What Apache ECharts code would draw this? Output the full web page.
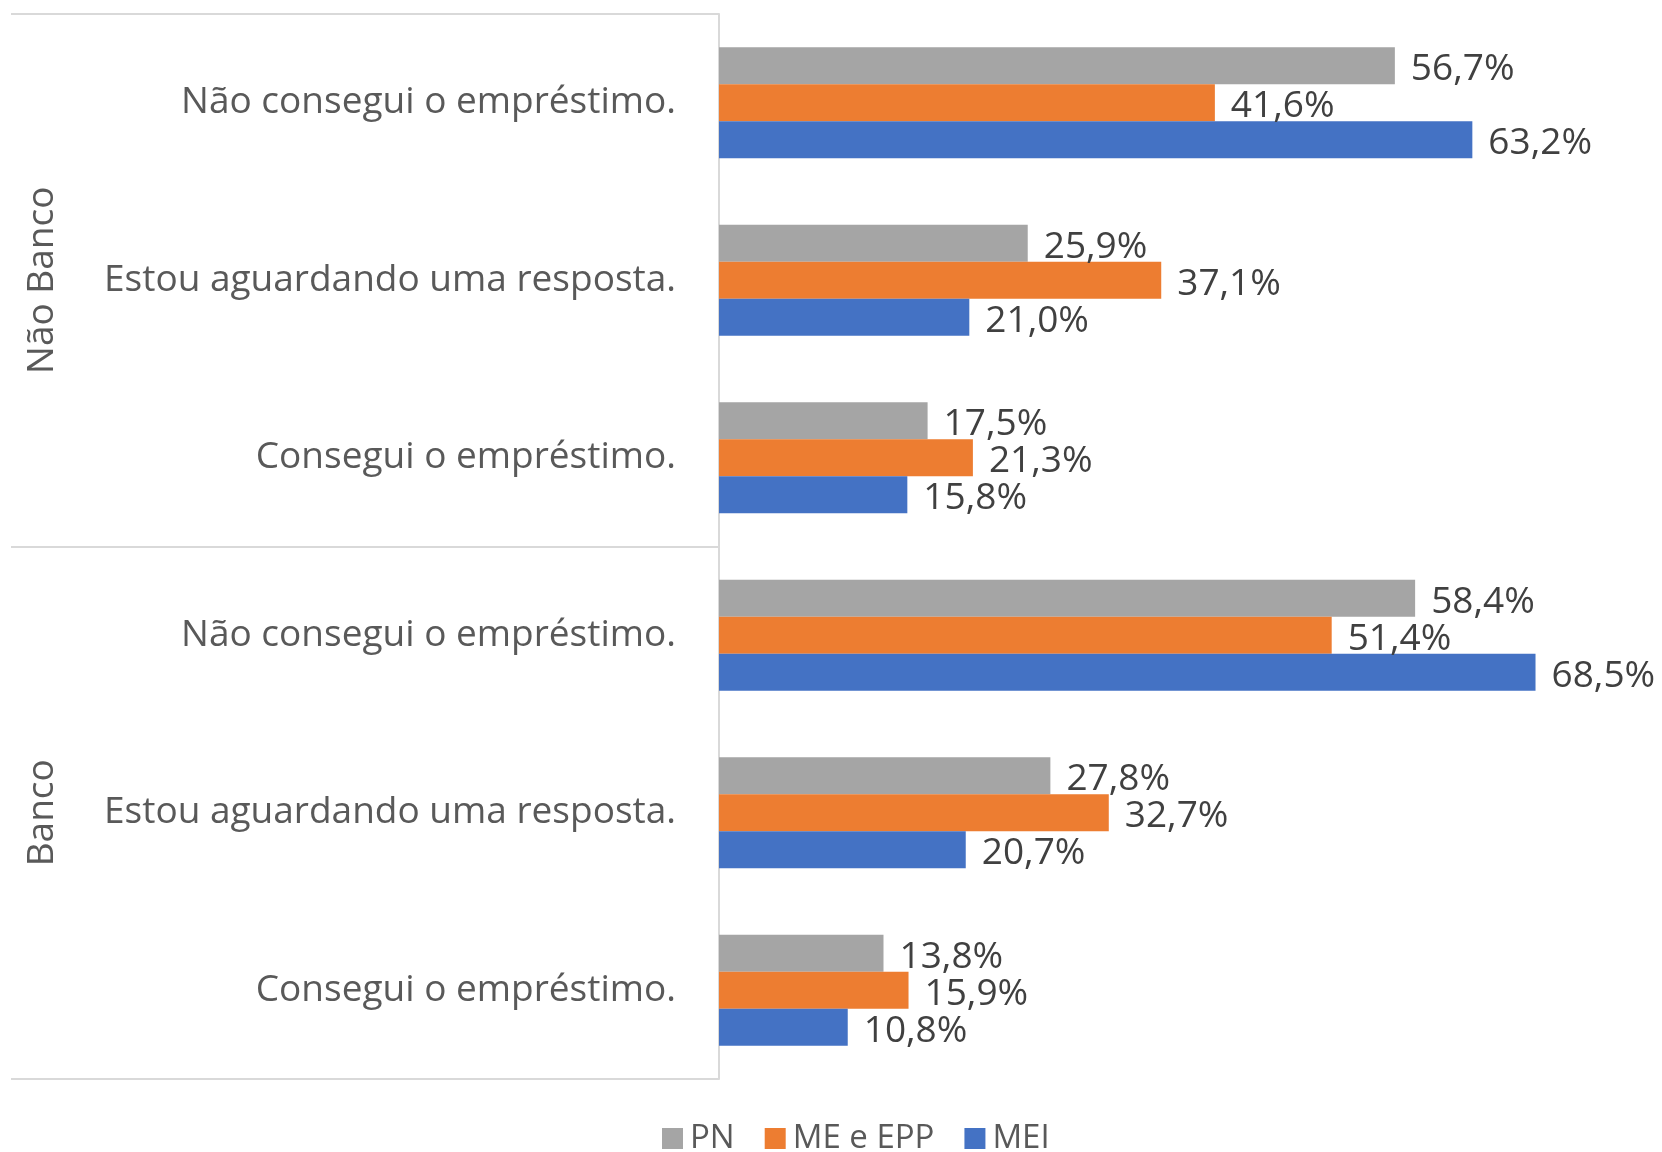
<!DOCTYPE html>
<html>
<head>
<meta charset="utf-8">
<script src="https://cdn.jsdelivr.net/npm/echarts@6/dist/echarts.min.js"></script>
<style>html,body{margin:0;padding:0;background:#fff}#c{width:1662px;height:1152px}</style>
</head>
<body>
<div id="c"></div>
<script>
const categories = ["Não consegui o empréstimo.", "Estou aguardando uma resposta.", "Consegui o empréstimo.",
                    "Não consegui o empréstimo.", "Estou aguardando uma resposta.", "Consegui o empréstimo."];
const groups = ["Não Banco", "Banco"];
const seriesNames = ["PN", "ME e EPP", "MEI"];
const pn = [56.7, 25.9, 17.5, 58.4, 27.8, 13.8];
const meEpp = [41.6, 37.1, 21.3, 51.4, 32.7, 15.9];
const mei = [63.2, 21.0, 15.8, 68.5, 20.7, 10.8];
const colors = ["#A5A5A5", "#ED7D31", "#4472C4"];

const FONT = "Open Sans";
const fmt = p => p.value.toFixed(1).replace('.', ',') + '%';

function mk(name, data, color) {
  return {
    name, type: 'bar', data, yAxisIndex: 0,
    itemStyle: { color },
    barGap: 0, barCategoryGap: '37.5%',
    label: { show: true, position: 'right', distance: 16, offset: [0, 4], formatter: fmt,
             color: '#404040', fontSize: 37, fontFamily: FONT },
    silent: true
  };
}

const chart = echarts.init(document.getElementById('c'), null, { renderer: 'canvas' });
chart.setOption({
  animation: false,
  backgroundColor: '#fff',
  color: colors,
  grid: { left: 719, right: 49, top: 14, bottom: 73, containLabel: false },
  xAxis: { type: 'value', min: 0, max: 75, show: false },
  yAxis: [
    { type: 'category', data: categories, inverse: true, position: 'left',
      axisLine: { show: true, lineStyle: { color: '#D9D9D9', width: 2 } },
      axisTick: { show: false },
      axisLabel: { color: '#595959', fontSize: 37, fontFamily: FONT, margin: 43, padding: [4, 0, 0, 0] },
      splitLine: { show: false } },
    { type: 'category', data: groups, inverse: true, position: 'left',
      axisLine: { show: false },
      axisTick: { show: true, length: 708, lineStyle: { color: '#D9D9D9', width: 2 } },
      axisLabel: { color: '#595959', fontSize: 37, fontFamily: FONT, rotate: 90,
                   margin: 677, align: 'center', verticalAlign: 'middle' },
      splitLine: { show: false } }
  ],
  legend: {
    data: seriesNames, left: 657, top: 1117, itemWidth: 21, itemHeight: 21, itemGap: 30,
    icon: 'rect',
    textStyle: { color: '#595959', fontSize: 33, fontFamily: FONT, padding: [0, 0, 0, 2] }
  },
  series: [mk(seriesNames[0], pn, colors[0]), mk(seriesNames[1], meEpp, colors[1]), mk(seriesNames[2], mei, colors[2])]
});
</script>
</body>
</html>
